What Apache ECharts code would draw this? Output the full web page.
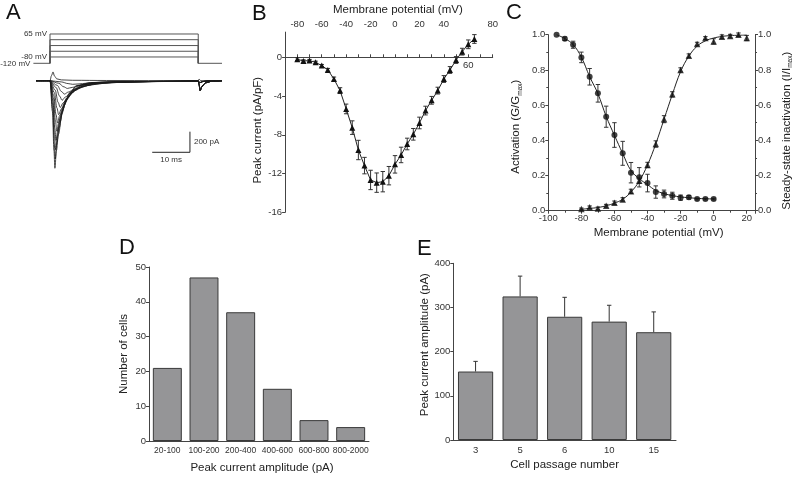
<!DOCTYPE html>
<html><head><meta charset="utf-8">
<script src="https://cdn.jsdelivr.net/npm/echarts@6/dist/echarts.min.js"></script>
<style>html,body{margin:0;padding:0;background:#fff}#c{width:800px;height:479px}</style>
</head><body><div id="c"></div>
<script>
// ---------- Panel A: voltage protocol (mV) ----------
const stepLevels = [65, 29, -8, -44, -80];
const holdLevel = -120;
const stepStart = 0, stepEnd = 39.3, tStart = -4.4, tEnd = 45.6;
const protoLabels = [[stepStart, 65, '65 mV'], [stepStart, -80, '-80 mV'], [tStart, -120, '-120 mV']];
// ---------- Panel A: current traces [ms, pA] ----------
const trace1 = [[0.65,-300],[1.05,-680],[1.3,-850],[1.7,-680],[2.25,-520],[3.2,-315],[4.2,-190],[5.1,-125],[7,-50],[10.8,-18],[18,-10],[30,-7]];
const trace2 = [[0.7,-270],[1.12,-610],[1.4,-760],[1.8,-610],[2.4,-460],[3.4,-280],[4.4,-175],[5.4,-110],[7.4,-45],[11.4,-18],[19,-10],[30,-7]];
const trace3 = [[0.75,-235],[1.2,-535],[1.5,-670],[1.95,-540],[2.6,-405],[3.7,-245],[4.8,-160],[5.9,-100],[8.1,-42],[12.5,-17],[20,-10],[30,-7]];
const trace4 = [[0.8,-200],[1.28,-465],[1.6,-580],[2.1,-470],[2.8,-350],[4.0,-215],[5.2,-140],[6.4,-88],[8.8,-38],[13.6,-16],[21,-10],[30,-7]];
const trace5 = [[0.9,-170],[1.44,-390],[1.8,-490],[2.35,-400],[3.15,-300],[4.5,-180],[5.9,-115],[7.2,-72],[9.9,-32],[15.3,-15],[22,-10],[30,-7]];
const trace6 = [[1.0,-145],[1.6,-330],[2.0,-410],[2.6,-335],[3.5,-250],[5.0,-150],[6.5,-95],[8.0,-62],[11,-28],[17,-13],[24,-9],[30,-7]];
const trace7 = [[1.15,-115],[1.84,-265],[2.3,-330],[3.0,-275],[4.0,-200],[5.7,-122],[7.4,-78],[9.1,-52],[12.5,-25],[19.3,-12],[25,-9],[31,-7]];
const trace8 = [[1.35,-90],[2.16,-210],[2.7,-260],[3.5,-215],[4.65,-160],[6.6,-97],[8.5,-62],[10.5,-42],[14.4,-22],[22,-11],[27,-8],[32,-7]];
const trace9 = [[1.6,-65],[2.56,-150],[3.2,-190],[4.1,-158],[5.45,-117],[7.7,-72],[9.9,-47],[12.2,-32],[16.7,-17],[24,-10],[29,-8],[33,-7]];
const trace10 = [[1.9,-45],[3.04,-105],[3.8,-130],[4.9,-110],[6.4,-82],[9.0,-52],[11.6,-35],[14.2,-25],[19.4,-14],[26,-9],[30,-8],[34,-7]];
const trace11 = [[2.3,-25],[3.7,-60],[4.6,-75],[5.9,-65],[7.6,-50],[10.6,-33],[13.6,-23],[16.6,-17],[22.6,-11],[28,-8],[32,-7],[35,-6]];
const trace12 = [[3,-12],[4.8,-28],[6,-35],[7.7,-31],[9.5,-25],[13,-17],[16.5,-12],[20,-10],[27,-7],[31,-6],[34,-6],[36,-5]];
const outwardTrace = [[0.4,50],[0.8,85],[1.2,45],[1.8,18],[3,8],[6,4],[15,2],[30,1],[39.3,0],[39.5,15],[40,0]];
const preStep = [[-3.7,0],[0,0]];
const tailBig = [[39.3,-4],[39.5,-35],[39.8,-95],[40.3,-55],[41.2,-22],[42.5,-8],[44,-3],[45.6,0]];
const tailSmall = [[39.3,-3],[39.7,-20],[40.5,-8],[42,-2],[45.6,0]];
const scaleBarT = [27.1, 32.1, 37.1];   // ms
const scaleBarI = [-695, -595, -495];   // pA

// ---------- Panel B ----------
const bX = [-80,-75,-70,-65,-60,-55,-50,-45,-40,-35,-30,-25,-20,-15,-10,-5,0,5,10,15,20,25,30,35,40,45,50,55,60,65];
const bY = [-0.2,-0.38,-0.34,-0.52,-0.86,-1.3,-2.24,-3.44,-5.33,-7.26,-9.57,-11.18,-12.66,-12.94,-12.84,-12.22,-11.05,-10.08,-8.95,-7.95,-6.78,-5.5,-4.44,-3.44,-2.24,-1.31,-0.28,0.58,1.34,1.89];
const bErr = [0.15,0.12,0.12,0.12,0.12,0.15,0.2,0.3,0.5,0.7,1.0,0.85,1.0,1.0,1.05,0.95,0.9,0.8,0.6,0.6,0.6,0.45,0.4,0.35,0.35,0.35,0.35,0.35,0.45,0.45];

// ---------- Panel C ----------
const inactX = [-95,-90,-85,-80,-75,-70,-65,-60,-55,-50,-45,-40,-35,-30,-25,-20,-15,-10,-5,0];
const inact = [1.0,0.977,0.943,0.871,0.761,0.667,0.534,0.430,0.326,0.216,0.19,0.157,0.106,0.095,0.085,0.074,0.076,0.066,0.066,0.066];
const inactErr = [0,0.01,0.02,0.03,0.047,0.05,0.06,0.07,0.068,0.058,0.055,0.05,0.035,0.022,0.02,0.015,0.01,0.005,0.005,0.005];
const inactFit = [1.0,0.978,0.944,0.872,0.762,0.665,0.536,0.428,0.325,0.228,0.182,0.148,0.115,0.097,0.086,0.078,0.074,0.07,0.068,0.067];
const actX = [-80,-75,-70,-65,-60,-55,-50,-45,-40,-35,-30,-25,-20,-15,-10,-5,0,5,10,15,20];
const act = [0.01,0.019,0.013,0.028,0.045,0.064,0.11,0.17,0.26,0.379,0.52,0.661,0.80,0.881,0.947,0.981,0.962,0.989,0.992,1.0,0.981];
const actErr = [0.005,0.008,0.008,0.008,0.01,0.01,0.012,0.015,0.015,0.018,0.02,0.015,0.012,0.01,0.01,0.008,0.015,0.01,0.01,0.01,0.015];
const actFit = [0.008,0.013,0.018,0.028,0.043,0.065,0.106,0.168,0.26,0.38,0.52,0.66,0.79,0.878,0.935,0.965,0.981,0.99,0.995,0.997,0.998];

// ---------- Panel D ----------
const dCats = ['20-100','100-200','200-400','400-600','600-800','800-2000'];
const dVals = [21,47,37,15,6,4];

// ---------- Panel E ----------
const eCats = ['3','5','6','10','15'];
const eVals = [155,325,279,268,244];
const eErr = [23,46,44,37,46];

// ================= chart =================
const FONT = '"Liberation Sans", Arial, Helvetica, sans-serif';
const AX = '#444', TX = '#333';
const NAME_SIZE = 11.5;
function zip(xs, ys) { return xs.map((x, i) => [x, ys[i]]); }
function zip3(xs, ys, es) { return xs.map((x, i) => [x, ys[i], es[i]]); }
const tickFont = { color: TX, fontSize: 9.5, fontFamily: FONT, margin: 3 };

function baseAxis(extra) {
  return Object.assign({
    axisLine: { show: true, onZero: false, lineStyle: { color: AX, width: 1 } },
    axisTick: { show: true, length: 3, lineStyle: { color: AX, width: 1 } },
    axisLabel: Object.assign({}, tickFont),
    splitLine: { show: false },
    nameTextStyle: { color: '#222', fontSize: NAME_SIZE, fontFamily: FONT }
  }, extra);
}
function nameStyle(padding) {
  return { color: '#222', fontSize: NAME_SIZE, fontFamily: FONT, padding };
}
function hiddenAxis(gi, min, max) {
  return { type: 'value', gridIndex: gi, min, max, show: false };
}
function textSeries(xi, yi, pts, position, distance, size) {
  return {
    type: 'scatter', xAxisIndex: xi, yAxisIndex: yi, silent: true, z: 6,
    symbol: 'circle', symbolSize: 2, itemStyle: { color: 'rgba(255,255,255,0)' },
    data: pts.map(p => ({ value: [p[0], p[1]], label: { show: true, formatter: p[2] } })),
    label: { show: true, position, distance, color: TX, fontSize: size, fontFamily: FONT, opacity: 1 }
  };
}

function errSeries(xi, yi, data, cap, upOnly, color) {
  return {
    type: 'custom', xAxisIndex: xi, yAxisIndex: yi, data, z: 3, silent: true,
    encode: { x: 0, y: 1 },
    renderItem(params, api) {
      const x = api.value(0), y = api.value(1), e = api.value(2);
      if (!e) return { type: 'group', children: [] };
      const p1 = api.coord([x, y + e]);
      const p0 = api.coord([x, upOnly ? y : y - e]);
      const st = { stroke: color, lineWidth: 1 };
      const ch = [
        { type: 'line', shape: { x1: p0[0], y1: p0[1], x2: p1[0], y2: p1[1] }, style: st },
        { type: 'line', shape: { x1: p1[0] - cap, y1: p1[1], x2: p1[0] + cap, y2: p1[1] }, style: st }
      ];
      if (!upOnly) ch.push({ type: 'line', shape: { x1: p0[0] - cap, y1: p0[1], x2: p0[0] + cap, y2: p0[1] }, style: st });
      return { type: 'group', children: ch };
    }
  };
}

const series = [];
// Panel A protocol
stepLevels.forEach(v => {
  series.push({
    type: 'line', xAxisIndex: 1, yAxisIndex: 1, symbol: 'none', silent: true,
    lineStyle: { color: '#555', width: 1 },
    data: [[stepStart, holdLevel], [stepStart, v], [stepEnd, v], [stepEnd, holdLevel]]
  });
});
series.push({
  type: 'line', xAxisIndex: 1, yAxisIndex: 1, symbol: 'none', silent: true,
  lineStyle: { color: '#555', width: 1 },
  data: [[tStart, holdLevel], [stepStart, holdLevel]]
});
series.push({
  type: 'line', xAxisIndex: 1, yAxisIndex: 1, symbol: 'none', silent: true,
  lineStyle: { color: '#555', width: 1 },
  data: [[stepEnd, holdLevel], [tEnd, holdLevel]]
});
series.push(textSeries(1, 1, protoLabels, 'left', 2, 8));
// Panel A traces
const allTraces = [trace1, trace2, trace3, trace4, trace5, trace6, trace7, trace8, trace9, trace10, trace11, trace12];
allTraces.forEach((tr, i) => {
  series.push({
    type: 'line', xAxisIndex: 0, yAxisIndex: 0, symbol: 'none', silent: true,
    smooth: 0.35, smoothMonotone: 'x',
    lineStyle: { color: '#1a1a1a', width: 0.8 },
    data: preStep.concat(tr, i < 6 ? tailBig : tailSmall)
  });
});
series.push({
  type: 'line', xAxisIndex: 0, yAxisIndex: 0, symbol: 'none', silent: true,
  smooth: 0.35, smoothMonotone: 'x',
  lineStyle: { color: '#1a1a1a', width: 0.8 },
  data: preStep.concat(outwardTrace, [[tEnd, 0]])
});
// scale bar
series.push({
  type: 'line', xAxisIndex: 0, yAxisIndex: 0, symbol: 'none', silent: true,
  lineStyle: { color: '#222', width: 1 },
  data: [[scaleBarT[0], scaleBarI[0]], [scaleBarT[2], scaleBarI[0]], [scaleBarT[2], scaleBarI[2]]]
});
series.push(textSeries(0, 0, [[scaleBarT[1], scaleBarI[0], '10 ms']], 'bottom', 3, 8));
series.push(textSeries(0, 0, [[scaleBarT[2], scaleBarI[1], '200 pA']], 'right', 3, 8));

// Panel B
series.push(errSeries(2, 2, zip3(bX, bY, bErr), 2.2, false, '#333'));
series.push({
  type: 'line', xAxisIndex: 2, yAxisIndex: 2, data: zip(bX, bY), z: 4,
  symbol: 'triangle', symbolSize: 6, itemStyle: { color: '#111' },
  lineStyle: { color: '#222', width: 1 }
});
series.push(textSeries(2, 2, [[60, 0, '60']], 'bottom', 2, 9.5));

// Panel C
series.push(errSeries(4, 3, zip3(inactX, inact, inactErr), 2.2, false, '#333'));
series.push(errSeries(4, 3, zip3(actX, act, actErr), 2.2, false, '#333'));
series.push({
  type: 'line', xAxisIndex: 4, yAxisIndex: 3, data: zip(inactX, inactFit), symbol: 'none', silent: true,
  smooth: 0.4, lineStyle: { color: '#222', width: 1 }
});
series.push({
  type: 'line', xAxisIndex: 4, yAxisIndex: 3, data: zip(actX, actFit), symbol: 'none', silent: true,
  smooth: 0.4, lineStyle: { color: '#222', width: 1 }
});
series.push({
  type: 'scatter', xAxisIndex: 4, yAxisIndex: 3, data: zip(inactX, inact), z: 4,
  symbol: 'circle', symbolSize: 6, itemStyle: { color: '#111' }
});
series.push({
  type: 'scatter', xAxisIndex: 4, yAxisIndex: 3, data: zip(actX, act), z: 4,
  symbol: 'triangle', symbolSize: 6.5, itemStyle: { color: '#111' }
});

// Panel D
series.push({
  type: 'bar', xAxisIndex: 5, yAxisIndex: 6, data: dVals, barWidth: '79%',
  itemStyle: { color: '#959597', borderColor: '#3a3a3a', borderWidth: 1 }
});
// Panel E
series.push({
  type: 'bar', xAxisIndex: 6, yAxisIndex: 7, data: eVals, barWidth: '79%',
  itemStyle: { color: '#959597', borderColor: '#3a3a3a', borderWidth: 1 }
});
series.push(errSeries(6, 7, eVals.map((v, i) => [i, v, eErr[i]]), 2.2, true, '#333'));

const gridBase = { containLabel: false, outerBoundsMode: 'none' };
const subRich = {
  n: { fontSize: NAME_SIZE, lineHeight: 14, fontFamily: FONT, color: '#222' },
  s: { fontSize: 6.5, lineHeight: 6, verticalAlign: 'bottom', fontFamily: FONT, color: '#222' }
};
const option = {
  animation: false,
  backgroundColor: '#fff',
  textStyle: { fontFamily: FONT },
  title: [
    ['A', 6, 2], ['B', 252, 3], ['C', 506, 2], ['D', 119, 237], ['E', 417, 238]
  ].map(([t, l, tp]) => ({ text: t, left: l, top: tp, padding: 0, textStyle: { fontSize: 22, fontWeight: 'normal', color: '#111', fontFamily: FONT } })),
  grid: [
    Object.assign({ left: 33.4, top: 70.4, width: 188.6, height: 103 }, gridBase),
    Object.assign({ left: 33.4, top: 33.2, width: 188.6, height: 30.9 }, gridBase),
    Object.assign({ left: 285.1, top: 32.1, width: 207.6, height: 180.2 }, gridBase),
    Object.assign({ left: 548.3, top: 34.7, width: 206.7, height: 176 }, gridBase),
    Object.assign({ left: 149, top: 267, width: 220, height: 174 }, gridBase),
    Object.assign({ left: 453.3, top: 263.3, width: 222.7, height: 176.7 }, gridBase)
  ],
  xAxis: [
    hiddenAxis(0, tStart, tEnd),
    hiddenAxis(1, tStart, tEnd),
    baseAxis({
      type: 'value', gridIndex: 2, min: -90, max: 80, interval: 10, position: 'top',
      axisLine: { show: true, onZero: true, lineStyle: { color: AX, width: 1 } },
      axisLabel: Object.assign({}, tickFont, {
        formatter: v => (Math.round(v) % 20 === 0 && Math.round(v) !== 60 && v > -85) ? String(Math.round(v)) : '' }),
      name: 'Membrane potential (mV)', nameLocation: 'middle', nameGap: 16,
      nameTextStyle: nameStyle([0, 0, 0, 18])
    }),
    hiddenAxis(2, -90, 80),
    baseAxis({
      type: 'value', gridIndex: 3, min: -100, max: 25, interval: 20,
      minorTick: { show: true, splitNumber: 2, length: 2, lineStyle: { color: AX } },
      axisLabel: Object.assign({}, tickFont, { formatter: v => (v === 25 ? '' : String(v)) }),
      name: 'Membrane potential (mV)', nameLocation: 'middle', nameGap: 16,
      nameTextStyle: nameStyle([0, 0, 0, 14])
    }),
    baseAxis({
      type: 'category', gridIndex: 4, data: dCats, axisTick: { show: false },
      axisLabel: Object.assign({}, tickFont, { fontSize: 8.5, margin: 5, interval: 0 }),
      name: 'Peak current amplitude (pA)', nameLocation: 'middle', nameGap: 21,
      nameTextStyle: nameStyle([0, 0, 0, 6])
    }),
    baseAxis({
      type: 'category', gridIndex: 5, data: eCats, axisTick: { show: false },
      axisLabel: Object.assign({}, tickFont, { fontSize: 9.5, margin: 5, interval: 0 }),
      name: 'Cell passage number', nameLocation: 'middle', nameGap: 19
    })
  ],
  yAxis: [
    hiddenAxis(0, -900, 100),
    hiddenAxis(1, -125, 70),
    baseAxis({
      type: 'value', gridIndex: 2, min: -16, max: 2.6, interval: 4,
      axisLabel: Object.assign({}, tickFont, { showMaxLabel: false,
        formatter: v => (Math.abs(v % 4) < 1e-6 ? String(v) : '') }),
      name: 'Peak current (pA/pF)', nameLocation: 'middle', nameGap: 21,
      nameTextStyle: nameStyle([0, 16, 0, 0])
    }),
    baseAxis({
      type: 'value', gridIndex: 3, min: 0, max: 1, interval: 0.2,
      minorTick: { show: true, splitNumber: 2, length: 2, lineStyle: { color: AX } },
      axisLabel: Object.assign({}, tickFont, { formatter: v => v.toFixed(1) }),
      name: '{n|Activation (G/G}{s|max}{n|)}', nameLocation: 'middle', nameGap: 25,
      nameTextStyle: { color: '#222', fontFamily: FONT, rich: subRich, padding: [0, 8, 0, 0] }
    }),
    baseAxis({
      type: 'value', gridIndex: 3, min: 0, max: 1, interval: 0.2, position: 'right',
      minorTick: { show: true, splitNumber: 2, length: 2, lineStyle: { color: AX } },
      axisLabel: Object.assign({}, tickFont, { formatter: v => v.toFixed(1) }),
      name: '{n|Steady-state inactivation (I/I}{s|max}{n|)}', nameLocation: 'middle', nameGap: 25,
      nameTextStyle: { color: '#222', fontFamily: FONT, rich: subRich, padding: [0, 16, 0, 0] }
    }),
    hiddenAxis(3, 0, 1),
    baseAxis({
      type: 'value', gridIndex: 4, min: 0, max: 50, interval: 10,
      name: 'Number of cells', nameLocation: 'middle', nameGap: 19,
      nameTextStyle: nameStyle([0, 0, 0, 0])
    }),
    baseAxis({
      type: 'value', gridIndex: 5, min: 0, max: 400, interval: 100,
      name: 'Peak current amplitude (pA)', nameLocation: 'middle', nameGap: 22,
      nameTextStyle: nameStyle([0, 0, 0, 14])
    })
  ],
  series
};
const chart = echarts.init(document.getElementById('c'), null, { renderer: 'canvas' });
chart.setOption(option);
</script></body></html>
